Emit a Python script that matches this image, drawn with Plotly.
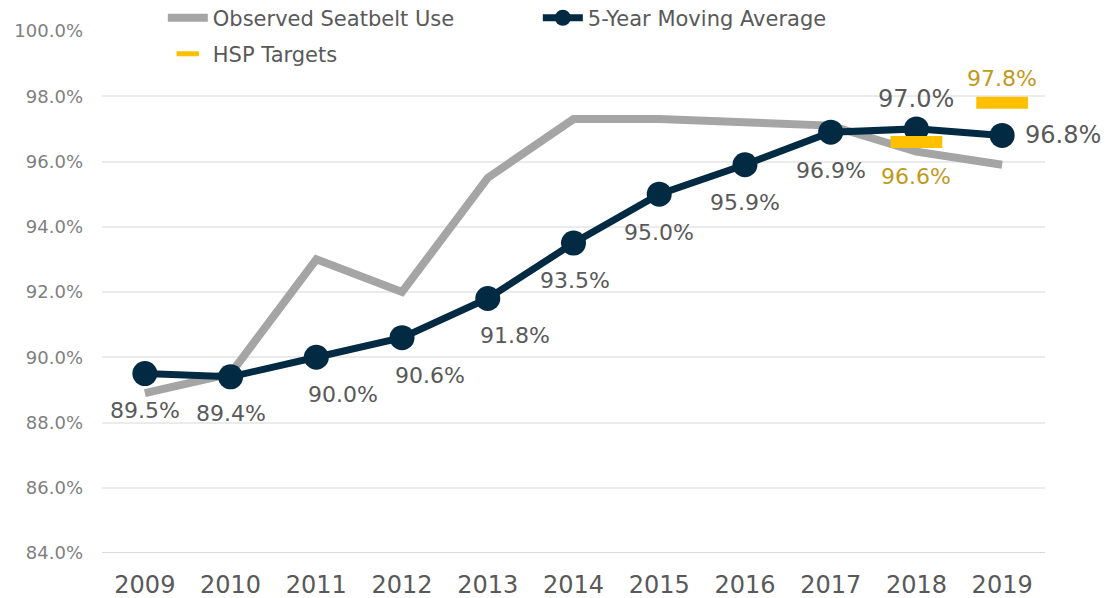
import plotly.graph_objects as go

years = ["2009", "2010", "2011", "2012", "2013", "2014", "2015", "2016", "2017", "2018", "2019"]
observed = [88.9, 89.5, 93.0, 92.0, 95.5, 97.3, 97.3, 97.2, 97.1, 96.3, 95.9]
moving_avg = [89.5, 89.4, 90.0, 90.6, 91.8, 93.5, 95.0, 95.9, 96.9, 97.0, 96.8]
target_years = ["2018", "2019"]
targets = [96.6, 97.8]

FONT = "DejaVu Sans"
GREY_TXT = "#595959"
NAVY = "#032A43"
GOLD = "#FFC000"
GOLD_TXT = "#C09A1C"

fig = go.Figure()
fig.add_trace(go.Scatter(
    x=years, y=observed, name="Observed Seatbelt Use", mode="lines",
    line=dict(color="#A5A5A5", width=8), hoverinfo="skip", legend="legend"))
fig.add_trace(go.Scatter(
    x=years, y=moving_avg, name="5-Year Moving Average", mode="lines+markers",
    line=dict(color=NAVY, width=7), marker=dict(size=25, color=NAVY), legend="legend"))
fig.add_trace(go.Scatter(
    x=target_years, y=targets, name="HSP Targets", mode="markers",
    marker=dict(symbol="line-ew-open", size=37, color=GOLD,
                line=dict(color=GOLD, width=12)), legend="legend2"))

# data labels for moving average (annotation x = category index)
shifts = {
    "2009": (0, -37), "2010": (0, -37), "2011": (27, -37), "2012": (28, -38),
    "2013": (27, -37), "2014": (1, -37), "2015": (0, -38), "2016": (0, -38),
    "2017": (0, -38), "2018": (0, 30), "2019": (61, 0),
}
for i, (yr, v) in enumerate(zip(years, moving_avg)):
    dx, dy = shifts[yr]
    big = yr in ("2018", "2019")
    fig.add_annotation(x=i, y=v, text=f"{v:.1f}%", showarrow=False,
                       xshift=dx, yshift=dy,
                       font=dict(family=FONT, size=24 if big else 22, color=GREY_TXT))
tshift = {"2018": -35, "2019": 24}
for yr, v in zip(target_years, targets):
    fig.add_annotation(x=years.index(yr), y=v, text=f"{v:.1f}%", showarrow=False,
                       yshift=tshift[yr],
                       font=dict(family=FONT, size=22, color=GOLD_TXT))

fig.update_layout(
    width=1102, height=590,
    margin=dict(l=94, r=65, t=23, b=45, autoexpand=False),
    plot_bgcolor="white", paper_bgcolor="white",
    font=dict(family=FONT, color=GREY_TXT),
    showlegend=True,
    legend=dict(orientation="h", x=0.0645, y=1.064, xanchor="left", yanchor="top",
                xref="paper", font=dict(size=21, color=GREY_TXT),
                entrywidth=320, entrywidthmode="pixels", bgcolor="rgba(0,0,0,0)",
                itemwidth=40),
    legend2=dict(orientation="h", x=0.0645, y=0.995, xanchor="left", yanchor="top",
                 xref="paper", font=dict(size=21, color=GREY_TXT),
                 bgcolor="rgba(0,0,0,0)", itemwidth=40),
    xaxis=dict(type="category", range=[-0.5, len(years) - 0.5], showgrid=False,
               showline=False, ticks="", ticklabelstandoff=15,
               tickfont=dict(size=24, color=GREY_TXT), fixedrange=True),
    yaxis=dict(range=[84, 100], dtick=2, tick0=84, tickformat=".1f", ticksuffix="%",
               showgrid=True, gridcolor="#EBEBEB", gridwidth=1.5,
               zeroline=False, showline=False, ticks="",
               tickfont=dict(size=18, color="#7F7F7F"), ticklabelstandoff=18),
)
fig.add_hline(y=84, line=dict(color="#D9D9D9", width=2), layer="below")
fig.write_html("out.html")
